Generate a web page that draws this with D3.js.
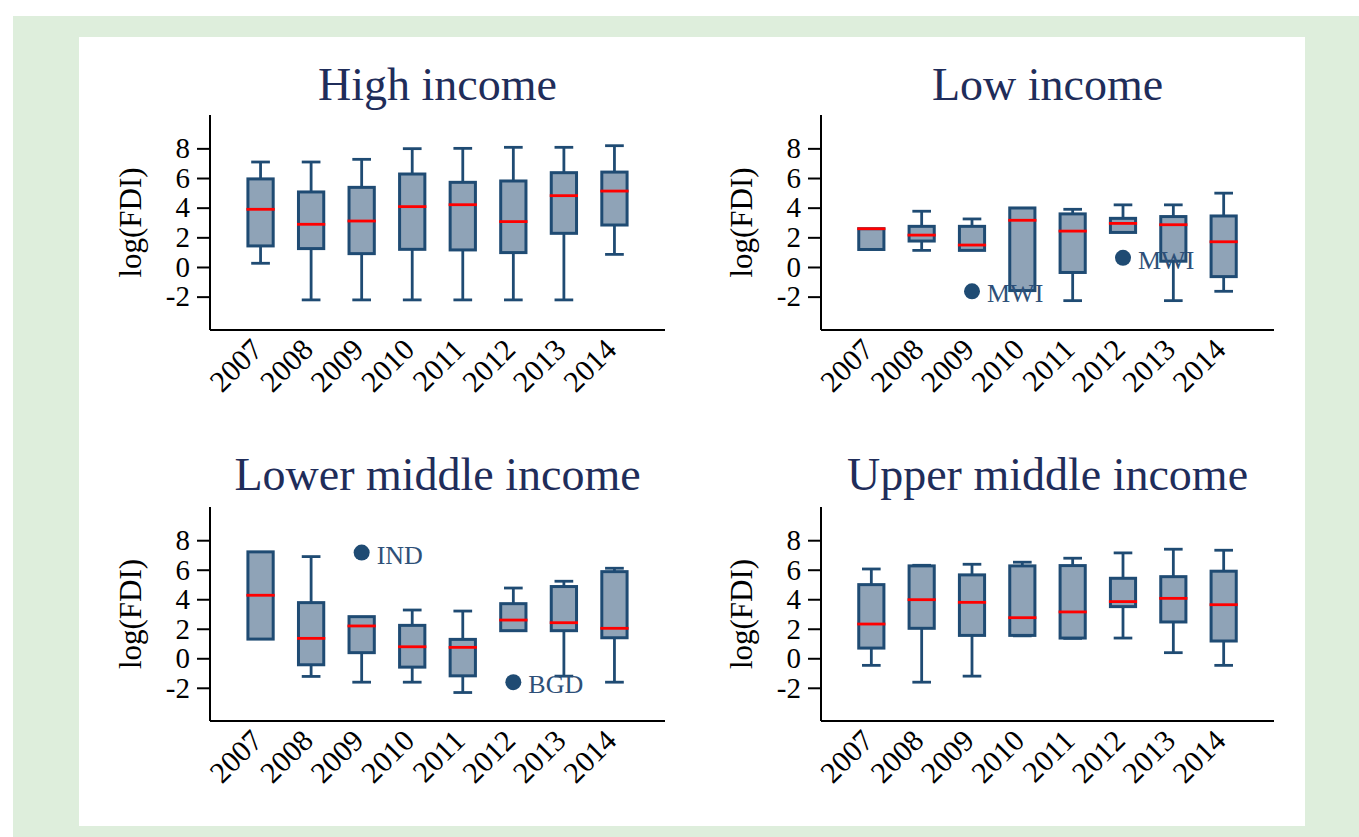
<!DOCTYPE html>
<html>
<head>
<meta charset="utf-8">
<script src="https://cdn.jsdelivr.net/npm/d3@7"></script>
<style>
  body { margin: 0; background: #fff; }
  text { font-family: "Liberation Serif", "DejaVu Serif", serif; }
</style>
</head>
<body>
<div id="chart"></div>
<script>
var years = ["2007", "2008", "2009", "2010", "2011", "2012", "2013", "2014"]
var panelTitles = ["High income", "Low income", "Lower middle income", "Upper middle income"]
var yTicks = [-2, 0, 2, 4, 6, 8]

// each entry: [lower whisker, q1, median, q3, upper whisker]
var highIncome = [
  [0.25, 1.42, 3.89, 5.94, 7.08],
  [-2.22, 1.24, 2.88, 5.06, 7.08],
  [-2.22, 0.90, 3.10, 5.37, 7.26],
  [-2.22, 1.19, 4.07, 6.27, 7.98],
  [-2.22, 1.15, 4.20, 5.71, 8.00],
  [-2.22, 0.97, 3.06, 5.80, 8.07],
  [-2.22, 2.27, 4.81, 6.36, 8.07],
  [0.85, 2.83, 5.12, 6.40, 8.18]
]
var lowIncome = [
  [1.18, 1.18, 2.58, 2.58, 2.58],
  [1.12, 1.75, 2.15, 2.74, 3.76],
  [1.12, 1.12, 1.48, 2.74, 3.24],
  [-1.59, -1.59, 3.15, 3.98, 3.98],
  [-2.27, -0.37, 2.42, 3.58, 3.89],
  [2.33, 2.33, 2.94, 3.28, 4.19],
  [-2.27, 0.39, 2.85, 3.40, 4.19],
  [-1.64, -0.65, 1.70, 3.44, 4.98]
]
var lowerMiddleIncome = [
  [1.30, 1.30, 4.27, 7.21, 7.21],
  [-1.23, -0.44, 1.35, 3.77, 6.89],
  [-1.62, 0.38, 2.19, 2.82, 2.82],
  [-1.62, -0.60, 0.78, 2.23, 3.27],
  [-2.32, -1.19, 0.74, 1.28, 3.20],
  [1.87, 1.87, 2.59, 3.70, 4.76],
  [-1.21, 1.87, 2.41, 4.86, 5.22],
  [-1.62, 1.39, 2.03, 5.87, 6.10]
]
var upperMiddleIncome = [
  [-0.48, 0.69, 2.32, 4.99, 6.05],
  [-1.62, 2.03, 3.97, 6.26, 6.30],
  [-1.21, 1.55, 3.79, 5.65, 6.37],
  [1.52, 1.55, 2.75, 6.26, 6.51],
  [1.35, 1.37, 3.14, 6.28, 6.78],
  [1.37, 3.50, 3.84, 5.42, 7.14],
  [0.38, 2.46, 4.06, 5.53, 7.39],
  [-0.48, 1.17, 3.63, 5.90, 7.32]
]
var panelBoxes = [highIncome, lowIncome, lowerMiddleIncome, upperMiddleIncome]

var outlierPanel = [1, 1, 2, 2]
var outlierYear = ["2009", "2012", "2009", "2012"]
var outlierValue = [-1.64, 0.62, 7.16, -1.62]
var outlierLabel = ["MWI", "MWI", "IND", "BGD"]

var W = 1359, H = 837
var boxFill = "#8fa3b7", boxStroke = "#1f4b73", titleColor = "#1f2d5a"

var svg = d3.select("#chart").append("svg")
  .attr("width", W).attr("height", H)

svg.append("rect").attr("x", 13).attr("y", 16).attr("width", W - 13).attr("height", H - 16).attr("fill", "#deeedc")
svg.append("rect").attr("x", 79).attr("y", 37).attr("width", 1226).attr("height", 789).attr("fill", "#fff")

var axisLeftX = [210, 821]
var axisRightX = [665, 1274]
var axisTopY = [115, 507]
var axisBottomY = [330, 721]
var titleY = [100, 490]

panelBoxes.forEach(function(boxes, p) {
  var col = p % 2, row = Math.floor(p / 2)
  var x0 = axisLeftX[col], x1 = axisRightX[col]
  var y0 = axisTopY[row], y1 = axisBottomY[row]

  var g = svg.append("g")

  var x = d3.scalePoint().domain(years).range([x0, x1]).padding(1)
  var y = d3.scaleLinear().domain([-4.25, 10.25]).range([y1, y0])
  var step = x.step()
  var bw = step * 0.5, cw = step * 0.37

  g.append("text")
    .attr("x", (x0 + x1) / 2).attr("y", titleY[row])
    .attr("text-anchor", "middle")
    .attr("font-size", 46)
    .attr("fill", titleColor)
    .text(panelTitles[p])

  // y axis
  var yAxis = g.append("g")
    .attr("transform", "translate(" + x0 + ",0)")
    .call(d3.axisLeft(y).tickValues(yTicks).tickSize(13).tickPadding(7).tickFormat(d3.format("d")))
  yAxis.select(".domain").attr("d", "M0," + y0 + "V" + y1).attr("stroke", "#000").attr("stroke-width", 2)
  yAxis.selectAll(".tick line").attr("stroke", "#000").attr("stroke-width", 2)
  yAxis.selectAll(".tick text").attr("font-size", 29).attr("fill", "#000")
    .text(function(d) { return d < 0 ? "-" + Math.abs(d) : d })

  // x axis
  var xAxis = g.append("g")
    .attr("transform", "translate(0," + y1 + ")")
    .call(d3.axisBottom(x).tickSize(0).tickPadding(0))
  xAxis.select(".domain").attr("d", "M" + x0 + ",0H" + x1).attr("stroke", "#000").attr("stroke-width", 2)
  xAxis.selectAll(".tick text")
    .attr("font-size", 30).attr("fill", "#000")
    .attr("text-anchor", "end")
    .attr("dy", null)
    .attr("transform", "translate(-12,6) rotate(-45)")
    .attr("y", 0).attr("x", 0)
    .attr("dominant-baseline", "hanging")

  g.append("text")
    .attr("transform", "translate(" + (x0 - 69) + "," + ((y0 + y1) / 2) + ") rotate(-90)")
    .attr("text-anchor", "middle")
    .attr("font-size", 31)
    .attr("fill", "#000")
    .text("log(FDI)")

  var bx = g.selectAll(".bx").data(boxes).enter().append("g")
    .attr("transform", function(d, i) { return "translate(" + x(years[i]) + ",0)" })

  // whiskers
  bx.append("line")
    .attr("x1", 0).attr("x2", 0)
    .attr("y1", function(d) { return y(d[4]) }).attr("y2", function(d) { return y(d[3]) })
    .attr("stroke", boxStroke).attr("stroke-width", 2.8)
  bx.append("line")
    .attr("x1", 0).attr("x2", 0)
    .attr("y1", function(d) { return y(d[1]) }).attr("y2", function(d) { return y(d[0]) })
    .attr("stroke", boxStroke).attr("stroke-width", 2.8)
  bx.filter(function(d) { return d[4] > d[3] }).append("line")
    .attr("x1", -cw / 2).attr("x2", cw / 2)
    .attr("y1", function(d) { return y(d[4]) }).attr("y2", function(d) { return y(d[4]) })
    .attr("stroke", boxStroke).attr("stroke-width", 2.8)
  bx.filter(function(d) { return d[0] < d[1] }).append("line")
    .attr("x1", -cw / 2).attr("x2", cw / 2)
    .attr("y1", function(d) { return y(d[0]) }).attr("y2", function(d) { return y(d[0]) })
    .attr("stroke", boxStroke).attr("stroke-width", 2.8)

  bx.append("rect")
    .attr("x", -bw / 2).attr("width", bw)
    .attr("y", function(d) { return y(d[3]) })
    .attr("height", function(d) { return y(d[1]) - y(d[3]) })
    .attr("fill", boxFill).attr("stroke", boxStroke).attr("stroke-width", 3)

  bx.append("line")
    .attr("x1", -bw / 2 - 1.5).attr("x2", bw / 2 + 1.5)
    .attr("y1", function(d) { return y(d[2]) }).attr("y2", function(d) { return y(d[2]) })
    .attr("stroke", "#ff0000").attr("stroke-width", 2.8)

  // outliers
  outlierPanel.forEach(function(op, k) {
    if (op !== p) return
    var cx = x(outlierYear[k]), cy = y(outlierValue[k])
    g.append("circle").attr("cx", cx).attr("cy", cy).attr("r", 8).attr("fill", boxStroke)
    g.append("text").attr("x", cx + 15).attr("y", cy + 11)
      .attr("font-size", 26).attr("fill", "#2e5078")
      .text(outlierLabel[k])
  })
})
</script>
</body>
</html>
